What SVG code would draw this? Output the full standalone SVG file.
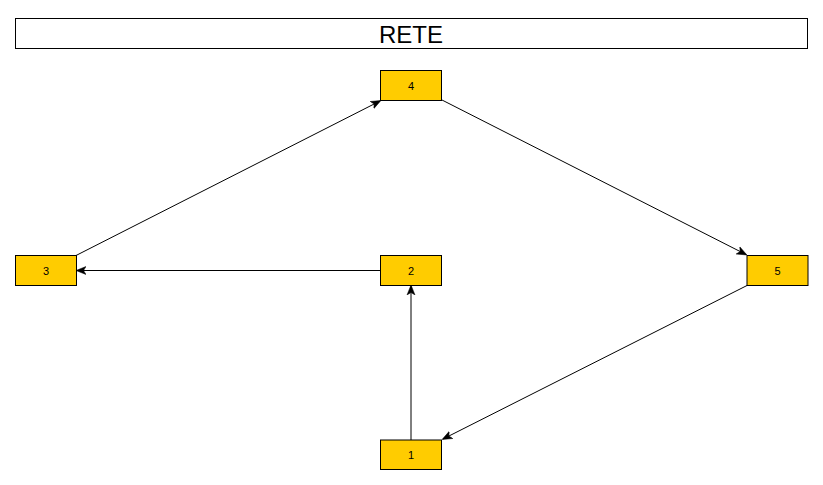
<svg xmlns="http://www.w3.org/2000/svg" width="823" height="485" viewBox="0 0 823 485">
<style>
.node rect{fill:#ffcc00;stroke:#000;stroke-width:1}
.node text{font-family:"Liberation Sans",Arial,sans-serif;font-size:11px;fill:#000;text-anchor:middle}
.edge{stroke:#000;stroke-width:1;fill:none;marker-end:url(#arr)}
</style>
<defs>
<marker id="arr" viewBox="0 0 10 10" refX="9" refY="5" markerWidth="10" markerHeight="10" markerUnits="userSpaceOnUse" orient="auto">
<path d="M0,1 L10,5 L0,9 L2.5,5 Z" fill="#000" stroke="#000" stroke-width="0.5"/>
</marker>
</defs>
<rect width="823" height="485" fill="#fff"/>
<g id="title">
<rect x="15.5" y="18.5" width="792" height="30" fill="#fff" stroke="#000" stroke-width="1"/>
<text x="411" y="42.5" font-family="'Liberation Sans',Arial,sans-serif" font-size="24" text-anchor="middle">RETE</text>
</g>
<g id="connectors">
<path class="edge" d="M442,100 L746,254.5"/>
<path class="edge" d="M747,285.5 L443,439"/>
<path class="edge" d="M411,440 L411,286"/>
<path class="edge" d="M381,270.5 L77,270.5"/>
<path class="edge" d="M76,255.5 L380,101"/>
</g>
<g id="node1" class="node"><rect x="380.5" y="440" width="61" height="29.5"/><text x="411" y="458.5">1</text></g>
<g id="node2" class="node"><rect x="380.5" y="255.5" width="61" height="30"/><text x="411" y="274.5">2</text></g>
<g id="node3" class="node"><rect x="15.5" y="255.5" width="61" height="30"/><text x="46" y="274.5">3</text></g>
<g id="node4" class="node"><rect x="380.5" y="70.5" width="61" height="30"/><text x="411" y="89.5">4</text></g>
<g id="node5" class="node"><rect x="747" y="255.5" width="61" height="30"/><text x="777.5" y="274.5">5</text></g>
</svg>
